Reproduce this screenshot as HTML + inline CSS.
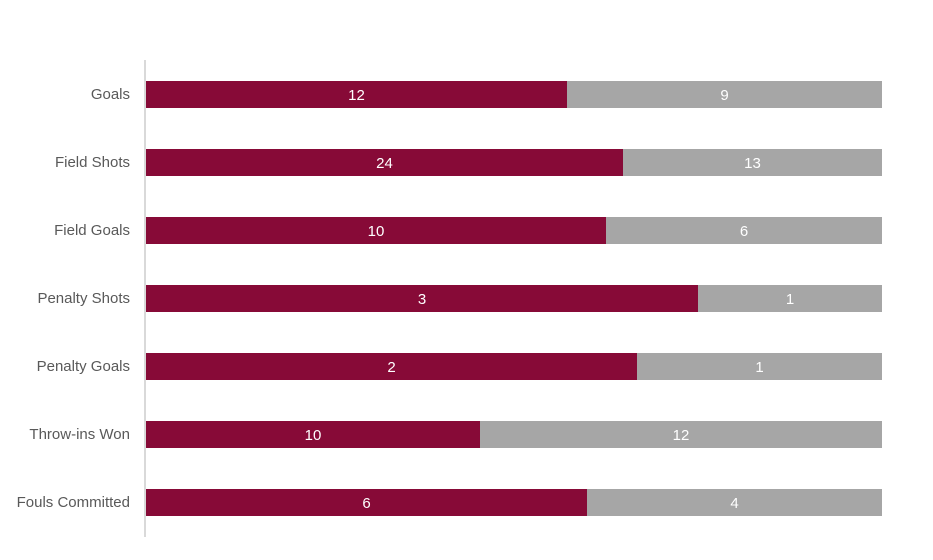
<!DOCTYPE html>
<html><head><style>
body{margin:0;background:#fff;width:933px;height:560px;position:relative;overflow:hidden;font-family:"Liberation Sans",sans-serif;}
.ax{position:absolute;left:144px;top:60px;width:2px;height:477px;background:#d9d9d9;}
.lab{position:absolute;right:803px;font-size:15px;color:#595959;line-height:20px;white-space:nowrap;}
.bar{position:absolute;height:27px;color:#fff;font-size:15px;line-height:29px;text-align:center;}
.a{background:#870A37;}.b{background:#A6A6A6;}
</style></head><body>
<div class="ax"></div>
<div class="lab" style="top:85px">Goals</div>
<div class="bar a" style="left:146px;top:81px;width:421px">12</div><div class="bar b" style="left:567px;top:81px;width:315px">9</div>
<div class="lab" style="top:153px">Field Shots</div>
<div class="bar a" style="left:146px;top:149px;width:477px">24</div><div class="bar b" style="left:623px;top:149px;width:259px">13</div>
<div class="lab" style="top:221px">Field Goals</div>
<div class="bar a" style="left:146px;top:217px;width:460px">10</div><div class="bar b" style="left:606px;top:217px;width:276px">6</div>
<div class="lab" style="top:289px">Penalty Shots</div>
<div class="bar a" style="left:146px;top:285px;width:552px">3</div><div class="bar b" style="left:698px;top:285px;width:184px">1</div>
<div class="lab" style="top:357px">Penalty Goals</div>
<div class="bar a" style="left:146px;top:353px;width:491px">2</div><div class="bar b" style="left:637px;top:353px;width:245px">1</div>
<div class="lab" style="top:425px">Throw-ins Won</div>
<div class="bar a" style="left:146px;top:421px;width:334px">10</div><div class="bar b" style="left:480px;top:421px;width:402px">12</div>
<div class="lab" style="top:493px">Fouls Committed</div>
<div class="bar a" style="left:146px;top:489px;width:441px">6</div><div class="bar b" style="left:587px;top:489px;width:295px">4</div>
</body></html>
